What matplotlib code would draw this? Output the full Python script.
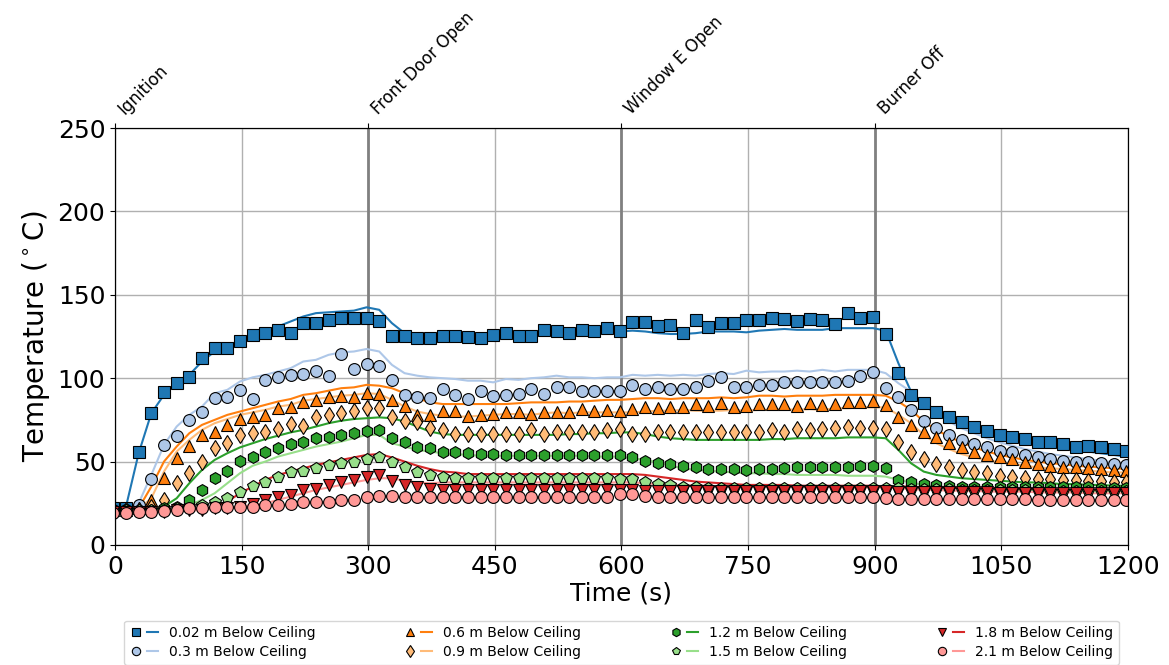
import numpy as np
import matplotlib
matplotlib.use('Agg')
import matplotlib.pyplot as plt
from matplotlib.lines import Line2D
from matplotlib.legend_handler import HandlerTuple

# DATA
times = np.arange(-2, 1200, 15)  # thermocouple readings every 15 s

events = ['Ignition', 'Front Door Open', 'Window E Open', 'Burner Off']
event_times = [0, 300, 600, 900]

labels = ['0.02 m Below Ceiling', '0.3 m Below Ceiling', '0.6 m Below Ceiling',
          '0.9 m Below Ceiling', '1.2 m Below Ceiling', '1.5 m Below Ceiling',
          '1.8 m Below Ceiling', '2.1 m Below Ceiling']

# measured (markers)
meas_002 = [22, 22, 56, 79, 92, 97, 101, 112, 118, 118,
            122, 126, 127, 129, 127, 133, 133, 135, 136, 136,
            136, 134, 125, 125, 124, 124, 125.5, 125, 124.5, 124,
            126, 127, 125, 125, 129, 128, 127, 129, 128, 130,
            128, 133.5, 133.5, 131, 132, 127, 135, 130.5, 133, 133,
            135, 135, 136, 135.5, 134, 135.5, 135, 132.5, 139, 136,
            136.5, 126.5, 103, 90, 85, 80, 76.5, 73.5, 70.5, 68.5,
            66, 65, 63.5, 62, 62, 60.5, 59, 59.5, 58.5, 57.5,
            56.5]
meas_03 = [21, 21, 24, 39.5, 60, 65.5, 75, 79.5, 88, 89,
           93, 87.5, 99, 101, 102, 102.5, 104.5, 101.5, 114.5, 105.5,
           108.5, 107.5, 99, 90, 89, 88, 93.5, 90, 87.5, 92.5,
           89.5, 90, 90.5, 93.5, 90.5, 94.5, 94.5, 92.5, 92.5, 92.5,
           92.5, 96, 93.5, 94.5, 93.5, 93.5, 95, 98.5, 100.5, 95,
           95, 96, 96, 97.5, 97.5, 97.5, 97.5, 97.5, 98.5, 101.5,
           104, 94, 89, 81, 74.5, 70, 66, 63, 60.5, 58.5,
           56.5, 55.5, 54, 53, 51.5, 50.5, 50, 49.5, 49, 48.5,
           48]
meas_06 = [21, 21, 22, 27, 40, 52, 59.5, 66, 68, 72,
           75.5, 77, 78, 82, 82.5, 86, 87, 89, 89.5, 89,
           91, 90.5, 87, 83.5, 78, 78, 80.5, 80.5, 77.5, 78,
           78.5, 80, 79.5, 78.5, 80, 80, 80, 81.5, 80.5, 81,
           80.5, 81.5, 82.5, 82, 83, 83, 84.5, 83.5, 85, 82.5,
           83.5, 84.5, 84.5, 84.5, 83.5, 85, 84, 84.5, 85.5, 85.5,
           86.5, 84, 76.5, 72, 68, 64.5, 61, 58.5, 55.5, 54,
           52.5, 51.5, 50, 48.5, 47.5, 47, 46.5, 46, 45.5, 45,
           44.5]
meas_09 = [21, 21, 21, 23, 27, 37, 43, 50, 58, 61,
           66, 67, 68, 69.5, 72.5, 71.5, 77, 78, 79, 80.5,
           82, 82, 76.5, 74.5, 73.5, 70, 69, 66.5, 66.5, 66.5,
           66.5, 66.5, 66.5, 69, 66.5, 68, 68, 68, 68, 69,
           69.5, 66.5, 66.5, 67.5, 67.5, 67.5, 67.5, 68, 68, 68,
           68, 68, 69, 68, 69.5, 69, 69.5, 70, 70.5, 70,
           70, 69.5, 62, 55.5, 51.5, 48.5, 47, 45, 43.5, 43,
           41.5, 41, 40, 39.5, 39.5, 39, 39, 38.5, 38.5, 38,
           38]
meas_12 = [21, 21, 21, 21, 22, 23, 27, 33, 40, 44.5,
           50.5, 52.5, 55.5, 58, 60.5, 61.5, 64, 65, 66, 67,
           68.5, 69, 64, 62, 59, 58, 56, 55.5, 55, 54.5,
           54.5, 54, 54, 54, 54, 54, 54, 54, 54, 54,
           54, 53, 50.5, 49, 48.5, 47.5, 46.5, 45.5, 45.5, 45.5,
           45, 45.5, 45.5, 46, 47, 47, 47, 47, 47, 47.5,
           47.5, 46, 39, 37.5, 36.5, 36, 35.5, 35, 35, 35,
           35, 35, 35, 34.5, 34.5, 34.5, 34.5, 34.5, 34, 34,
           34]
meas_15 = [21, 21, 21, 21, 21, 22, 22, 24, 26, 28,
           32, 35.5, 38, 41, 43.5, 44.5, 46, 48, 49, 50,
           51.5, 53, 50, 47, 44, 42, 40.5, 40, 40, 40,
           40, 40, 40, 40, 40, 40, 40, 40, 40, 40,
           39.5, 39.5, 38, 36.5, 36, 35, 34.5, 34, 34, 34,
           34, 34, 34, 34, 34, 34, 34, 34, 34, 34,
           34, 34, 34, 33.5, 33.5, 33.5, 33.5, 33, 33, 33,
           33, 33, 33, 33, 32.5, 32.5, 32.5, 32.5, 32.5, 32.5,
           32.5]
meas_18 = [20, 20, 20, 20, 20, 21, 21, 21, 22, 22,
           23, 24.5, 27, 29, 30, 33, 33.5, 36, 38, 39,
           41, 42, 38.5, 36, 34.5, 33.5, 33, 33, 33, 33,
           33, 33, 33, 33, 33, 33, 33, 33, 33, 33,
           33, 33, 32.5, 32.5, 32.5, 32.5, 32.5, 32.5, 32.5, 32.5,
           32.5, 32.5, 32.5, 32.5, 32.5, 32.5, 32.5, 32.5, 32.5, 32.5,
           32.5, 32.5, 32, 32, 31.5, 31.5, 31.5, 31.5, 31.5, 31.5,
           31, 31, 31, 31, 31, 31, 31, 31, 31, 31,
           31]
meas_21 = [19, 19, 19.5, 20, 20.5, 21, 22, 22, 22.5, 22.5,
           23, 23, 24, 24, 24.5, 26, 25.5, 26, 27, 27,
           28.5, 29.5, 29.5, 28.5, 29, 28.5, 28.5, 28.5, 28.5, 28.5,
           28.5, 28.5, 28.5, 28.5, 28.5, 28.5, 28.5, 28.5, 29, 29,
           30.5, 30.5, 29.5, 29, 29, 28.5, 28.5, 28.5, 28.5, 28.5,
           28.5, 28.5, 28.5, 28.5, 28.5, 28.5, 28.5, 28.5, 28.5, 28.5,
           28.5, 28, 27.5, 27.5, 27.5, 27.5, 27.5, 27.5, 27.5, 27.5,
           27.5, 27.5, 27.5, 27, 27, 27, 27, 27, 27, 27,
           27]

# model (lines)
model_002 = [21, 23, 55, 79, 90, 98, 102, 110, 116, 119,
             123, 126, 128.5, 131, 134, 137, 139, 139.5, 140, 140.5,
             142.5, 141, 133, 127, 126, 125, 125, 124.5, 124, 124,
             124.5, 125, 125, 125.5, 126, 126, 126, 126, 126.5, 128,
             128, 128.5, 128, 127, 126.5, 126.5, 127, 128, 128, 128,
             127.5, 128.5, 129, 129.5, 129, 129, 129, 130, 130, 130,
             130, 128.5, 109, 92, 83.5, 79, 75, 72, 69, 66.5,
             64.5, 63, 61.5, 60, 59, 58, 57, 56, 55, 54,
             53]
model_03 = [20.5, 21, 25, 42, 60, 71, 78, 83, 91, 93,
            98, 100.5, 102, 104, 106, 110, 111, 114, 115.5, 116,
            117.5, 116, 108, 103, 101.5, 100.5, 100, 99.5, 98.5, 98.5,
            97.5, 99.5, 99, 100, 100.5, 101.5, 100.5, 100.5, 100, 100.5,
            100.5, 102, 101.5, 102, 101.5, 102, 101.5, 102.5, 103, 102.5,
            104.5, 103.5, 104, 104, 104.5, 104, 105, 104, 105, 105,
            105, 103, 97, 92, 85, 79, 74, 70, 67, 64,
            61.5, 59.5, 57.5, 56, 54.5, 53.5, 52.5, 51.5, 50.5, 49.5,
            48.5]
model_06 = [20.5, 21, 22, 35, 50, 59, 67, 72, 75, 78,
            80, 82, 84, 86, 87.5, 90, 91, 92.5, 94, 94.5,
            96, 95.5, 94, 91, 88, 85.5, 84.5, 84.5, 84.5, 84.5,
            84.5, 84.5, 85, 85.5, 85.5, 85.5, 86, 86, 86.5, 87,
            87, 87.5, 88, 88, 87.5, 88, 88, 88, 88.5, 88,
            88.5, 89.5, 89.5, 89, 89.5, 89.5, 89.5, 90, 90, 90,
            90, 89.5, 86, 81, 74, 69, 65, 61.5, 58.5, 56,
            54, 52.5, 51, 50, 49, 48.5, 47.5, 47, 46.5, 46,
            45.5]
model_09 = [20.5, 21, 21.5, 28, 44, 56, 63, 69, 73, 75.5,
            78, 79.5, 81, 83, 84, 86.5, 87.5, 88.5, 89.5, 90,
            91, 90.5, 87, 83, 80, 78.5, 77.5, 77, 77, 77.5,
            78, 78.5, 78.5, 78, 79, 79.5, 79, 79.5, 79.5, 79.5,
            79.5, 79.5, 80, 80.5, 80.5, 81, 80.5, 80.5, 80.5, 81,
            80.5, 81, 81, 81.5, 81, 81.5, 81, 82, 82, 82.5,
            82.5, 82.5, 78, 73, 66, 61, 57.5, 54.5, 52.5, 51,
            49.5, 48.5, 47.5, 46.5, 46, 45.5, 45, 44.5, 44, 43.5,
            43.5]
model_12 = [20.5, 20.5, 21, 21, 23, 28, 37, 45, 51, 55,
            58.5, 61, 63.5, 65.5, 67.5, 69, 71, 73, 74.5, 75.5,
            76, 76.5, 76, 74, 71, 68, 66.5, 66, 66, 66,
            66, 66, 66, 66, 66, 66, 66.5, 66.5, 67, 67,
            67.5, 67.5, 66.5, 65, 64, 63.5, 63, 63, 63, 63,
            63, 63, 63.5, 63.5, 64, 64, 64, 64, 64.5, 64.5,
            64.5, 64, 57, 49, 44, 42, 41, 40, 39.5, 39,
            38.5, 38, 37.5, 37.5, 37, 36.5, 36.5, 36, 36, 35.5,
            35.5]
model_15 = [20.5, 20.5, 20.5, 21, 21, 22, 24, 27, 31, 37,
            43, 47.5, 50, 53, 55, 57, 59, 60.5, 62, 64,
            66, 66, 61, 59, 57, 56, 55, 54.5, 54, 53.5,
            53.5, 53.5, 53.5, 53.5, 53.5, 53.5, 53.5, 53.5, 53, 53,
            53, 52, 51, 49.5, 47.5, 46, 45, 44.5, 44, 43.5,
            43, 43, 42.5, 42.5, 42, 42, 42, 42, 41.5, 41.5,
            41.5, 41, 39, 37.5, 36, 35, 34.5, 34, 33.5, 33.5,
            33, 33, 32.5, 32.5, 32.5, 32, 32, 32, 32, 32,
            32]
model_18 = [20.5, 20.5, 20.5, 20.5, 20.5, 21, 21, 21.5, 23, 26,
            31, 35, 39, 42, 44, 46, 48, 49.5, 51, 52.5,
            54, 54.5, 52.5, 50, 47.5, 45.5, 44, 43.5, 42.5, 42.5,
            42.5, 42.5, 42.5, 42.5, 42.5, 42.5, 42.5, 42.5, 42.5, 42.5,
            42.5, 42.5, 42, 41, 40, 39, 38, 37.5, 37, 36.5,
            36, 36, 36, 36, 35.5, 35.5, 35.5, 35.5, 35.5, 35.5,
            35.5, 35, 35, 35, 34.5, 34.5, 34.5, 34, 34, 34,
            34, 33.5, 33.5, 33.5, 33.5, 33, 33, 33, 33, 33,
            33]
model_21 = [20, 20, 20, 20, 20, 20.5, 20.5, 21, 21.5, 22,
            23, 24, 25, 27, 29, 31, 33, 34.5, 36, 37.5,
            39, 40, 40, 38.5, 37.5, 37, 37.5, 37.5, 37.5, 37.5,
            37.5, 37.5, 37.5, 37.5, 37.5, 37.5, 37.5, 37.5, 37.5, 37.5,
            37.5, 37.5, 37, 36.5, 36, 36, 35.5, 35.5, 35, 35,
            35, 35, 35, 35, 35, 35, 35, 34.5, 34.5, 34.5,
            34.5, 34.5, 34, 33.5, 33, 33, 32.5, 32.5, 32.5, 32,
            32, 32, 32, 31.5, 31.5, 31.5, 31.5, 31, 31, 31,
            31]

measured = [meas_002, meas_03, meas_06, meas_09, meas_12, meas_15, meas_18, meas_21]
modeled = [model_002, model_03, model_06, model_09, model_12, model_15, model_18, model_21]

colors = ['#1f77b4', '#aec7e8', '#ff7f0e', '#ffbb78',
          '#2ca02c', '#98df8a', '#d62728', '#ff9896']
markers = ['s', 'o', '^', 'd', 'h', 'p', 'v', 'o']

fig = plt.figure(figsize=(11.69, 6.65), dpi=100)
ax = fig.add_axes([0.0984, 0.1805, 0.8665, 0.627])

handles = []
for meas, mod, c, m, lab in zip(measured, modeled, colors, markers, labels):
    ax.plot(times, mod, color=c, lw=1.5, zorder=2)
    ax.plot(times, meas, ls='none', marker=m, ms=8.5, mfc=c, mec='black',
            mew=0.8, zorder=3)
    h_mark = Line2D([], [], ls='none', marker=m, ms=6, mfc=c, mec='black', mew=0.8)
    h_line = Line2D([], [], color=c, lw=1.5)
    handles.append((h_mark, h_line))

for et in event_times[1:]:
    ax.axvline(et, color='#808080', lw=2, zorder=1.8)

ax.set_xlim(0, 1200)
ax.set_ylim(0, 250)
ax.set_xticks(np.arange(0, 1201, 150))
ax.set_yticks(np.arange(0, 251, 50))
ax.tick_params(labelsize=18)
ax.grid(True, color='#b0b0b0', lw=1)
ax.set_xlabel('Time (s)', fontsize=18, labelpad=2)
ax.set_ylabel(r'Temperature ($^\circ$C)', fontsize=20)

# event labels on top axis
ax2 = ax.twiny()
ax2.set_xlim(0, 1200)
ax2.set_xticks(event_times)
ax2.set_xticklabels(events, rotation=45, ha='left', fontsize=12)

ax.legend(handles, labels, handler_map={tuple: HandlerTuple(ndivide=None)},
          loc='upper center', bbox_to_anchor=(0.5, -0.165), ncol=4,
          fontsize=10, columnspacing=6.4, handlelength=2.0, labelspacing=0.35)

fig.savefig('out.png', dpi=100)
